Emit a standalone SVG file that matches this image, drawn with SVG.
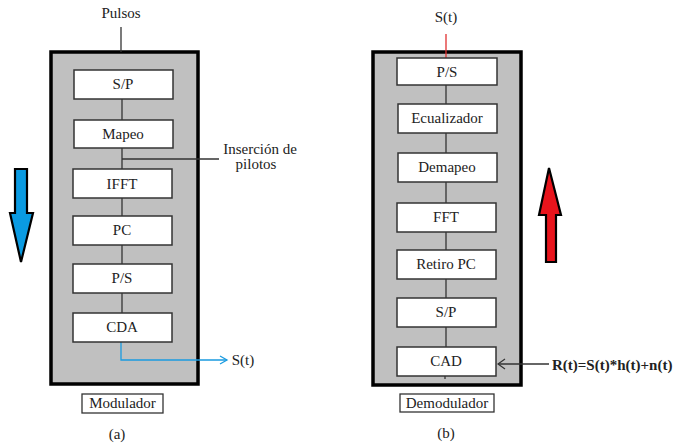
<svg xmlns="http://www.w3.org/2000/svg" width="675" height="447" viewBox="0 0 675 447">
<style>
.panel{fill:#c0c0c0;stroke:#000;stroke-width:3.5}
.box{fill:#fff;stroke:#333;stroke-width:1.5}
.lbl{fill:#fff;stroke:#333;stroke-width:1.3}
text{font-family:"Liberation Serif","Times New Roman",serif;font-size:15px;fill:#222;text-anchor:middle}
text.rt{text-anchor:start;font-weight:bold}
.ln{stroke:#333;stroke-width:1.3;fill:none}
</style>
<defs>
<marker id="openB" markerWidth="10" markerHeight="10" refX="8" refY="5" orient="auto" markerUnits="userSpaceOnUse"><path d="M1,1 L8,5 L1,9" fill="none" stroke="#1a9be0" stroke-width="1.3"/></marker>
<marker id="openK" markerWidth="10" markerHeight="12" refX="8" refY="6" orient="auto" markerUnits="userSpaceOnUse"><path d="M1,1 L8,6 L1,11" fill="none" stroke="#333" stroke-width="1.2"/></marker>
</defs>

<g id="modulador-panel">
<rect class="panel" x="51" y="52" width="147" height="332"/>
</g>
<g id="demodulador-panel">
<rect class="panel" x="373" y="52" width="148" height="333"/>
</g>

<g id="connectors">
<line class="ln" x1="121" y1="27" x2="121" y2="52"/>
<line class="ln" x1="122" y1="99" x2="122" y2="120"/>
<line class="ln" x1="122" y1="148" x2="122" y2="169"/>
<line class="ln" x1="122" y1="159" x2="219" y2="159"/>
<line class="ln" x1="122" y1="198" x2="122" y2="216"/>
<line class="ln" x1="122" y1="245" x2="122" y2="264"/>
<line class="ln" x1="122" y1="293" x2="122" y2="313"/>
<polyline points="121,342 121,360 227,360" fill="none" stroke="#1a9be0" stroke-width="1.3" marker-end="url(#openB)"/>
<line x1="446" y1="34" x2="446" y2="58" stroke="#e03030" stroke-width="1.3"/>
<line class="ln" x1="446" y1="85" x2="446" y2="104"/>
<line class="ln" x1="446" y1="133" x2="446" y2="153"/>
<line class="ln" x1="446" y1="182" x2="446" y2="203"/>
<line class="ln" x1="446" y1="232" x2="446" y2="250"/>
<line class="ln" x1="446" y1="279" x2="446" y2="298"/>
<line class="ln" x1="446" y1="327" x2="446" y2="347"/>
<line class="ln" x1="445" y1="376" x2="445" y2="379"/>
<line class="ln" x1="549" y1="364" x2="498" y2="364" marker-end="url(#openK)"/>
</g>

<g id="pulsos"><text x="121" y="18">Pulsos</text></g>
<g id="mod-sp"><rect class="box" x="74" y="70" width="99" height="29"/><text x="123" y="89">S/P</text></g>
<g id="mod-mapeo"><rect class="box" x="74" y="120" width="99" height="28"/><text x="123" y="139">Mapeo</text></g>
<g id="insercion"><text x="260" y="154">Inserción de</text><text x="256" y="169">pilotos</text></g>
<g id="mod-ifft"><rect class="box" x="73" y="169" width="99" height="29"/><text x="122" y="189">IFFT</text></g>
<g id="mod-pc"><rect class="box" x="73" y="216" width="99" height="29"/><text x="122" y="235">PC</text></g>
<g id="mod-ps"><rect class="box" x="73" y="264" width="99" height="29"/><text x="122" y="283">P/S</text></g>
<g id="mod-cda"><rect class="box" x="73" y="313" width="99" height="29"/><text x="122" y="332">CDA</text></g>
<g id="mod-st"><text x="243" y="365">S(t)</text></g>
<g id="mod-label"><rect class="lbl" x="82" y="394" width="81" height="19"/><text x="122.5" y="408">Modulador</text></g>
<g id="caption-a"><text x="117" y="439">(a)</text></g>

<g id="down-arrow"><path d="M15,169 L27,169 L27,213 L33,213 L21,262 L10,213 L15,213 Z" fill="#0a9be2" stroke="#000" stroke-width="2.2" stroke-linejoin="miter"/></g>

<g id="dem-st"><text x="446" y="22">S(t)</text></g>
<g id="dem-ps"><rect class="box" x="397" y="58" width="100" height="27"/><text x="447" y="77">P/S</text></g>
<g id="dem-ecualizador"><rect class="box" x="398" y="104" width="99" height="29"/><text x="447" y="123">Ecualizador</text></g>
<g id="dem-demapeo"><rect class="box" x="398" y="153" width="99" height="29"/><text x="447" y="172">Demapeo</text></g>
<g id="dem-fft"><rect class="box" x="397" y="203" width="99" height="29"/><text x="446" y="222">FFT</text></g>
<g id="dem-retiro"><rect class="box" x="397" y="250" width="99" height="29"/><text x="446" y="269">Retiro PC</text></g>
<g id="dem-sp"><rect class="box" x="397" y="298" width="99" height="29"/><text x="446" y="317">S/P</text></g>
<g id="dem-cad"><rect class="box" x="397" y="347" width="99" height="29"/><text x="446" y="366">CAD</text></g>
<g id="rt"><text class="rt" x="552" y="370">R(t)=S(t)*h(t)+n(t)</text></g>
<g id="dem-label"><rect class="lbl" x="400" y="394" width="94" height="18"/><text x="447" y="408">Demodulador</text></g>
<g id="caption-b"><text x="446" y="438">(b)</text></g>

<g id="up-arrow"><path d="M549,168 L561,215 L556,215 L556,262 L546,262 L546,215 L539,215 Z" fill="#e8141c" stroke="#000" stroke-width="2.2"/></g>
</svg>
